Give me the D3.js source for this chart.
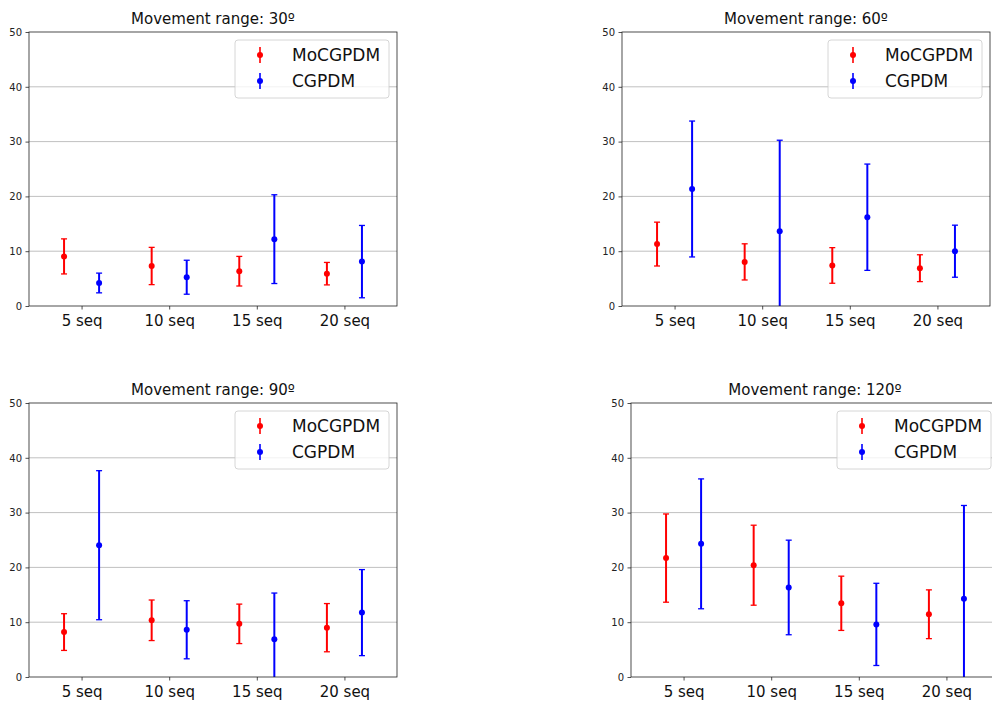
<!DOCTYPE html>
<html>
<head>
<meta charset="utf-8">
<script src="https://cdnjs.cloudflare.com/ajax/libs/d3/7.8.5/d3.min.js"></script>
<style>
  body { margin: 0; background: #fff; }
  text { font-family: "DejaVu Sans", sans-serif; }
</style>
</head>
<body>
<svg id="chart" width="992" height="704"></svg>
<script>
// data
var categories = ["5 seq", "10 seq", "15 seq", "20 seq"];
var ranges = ["30º", "60º", "90º", "120º"];
var seriesNames = ["MoCGPDM", "CGPDM"];
var seriesColors = ["#ff0000", "#0000ff"];

// one row per movement range, one value per category
var mocgpdmMean = [
  [9.05, 7.3, 6.35, 5.9],
  [11.3, 8.05, 7.4, 6.9],
  [8.2, 10.35, 9.7, 9.0],
  [21.7, 20.4, 13.45, 11.45]
];
var mocgpdmErr = [
  [3.2, 3.4, 2.7, 2.05],
  [4.0, 3.3, 3.25, 2.45],
  [3.35, 3.7, 3.6, 4.4],
  [8.05, 7.3, 4.95, 4.45]
];
var cgpdmMean = [
  [4.2, 5.25, 12.2, 8.1],
  [21.35, 13.65, 16.2, 10.0],
  [24.05, 8.62, 6.87, 11.75],
  [24.3, 16.34, 9.6, 14.3]
];
var cgpdmErr = [
  [1.8, 3.1, 8.1, 6.6],
  [12.4, 16.6, 9.7, 4.75],
  [13.6, 5.3, 8.45, 7.85],
  [11.85, 8.63, 7.5, 17.0]
];
var yTicks = [0, 10, 20, 30, 40, 50];

var svg = d3.select("#chart");

//axes boxes in pixels (last one runs off the page like the original)
var boxes = [
  {x: 29, y: 32},
  {x: 622, y: 32},
  {x: 29, y: 403},
  {x: 631, y: 403}
];
var W = 368, H = 274;

boxes.forEach(function(b, p) {
  var g = svg.append("g").attr("transform", "translate(" + b.x + "," + b.y + ")");

  var x = d3.scaleLinear().domain([0.4, 4.6]).range([0, W]);
  var y = d3.scaleLinear().domain([0, 50]).range([H, 0]);

  g.append("clipPath").attr("id", "clip" + p)
    .append("rect").attr("width", W).attr("height", H);

  // grid
  g.selectAll(".grid").data(yTicks.slice(1, -1)).enter()
    .append("line")
    .attr("x1", 0).attr("x2", W)
    .attr("y1", function(d) { return y(d); })
    .attr("y2", function(d) { return y(d); })
    .attr("stroke", "#b0b0b0").attr("stroke-width", 0.8);

  // y axis
  var ya = g.append("g").call(d3.axisLeft(y).tickValues(yTicks).tickSize(3.5).tickPadding(3.5));
  ya.select(".domain").remove();
  ya.selectAll("text").attr("font-size", 10).attr("fill", "#222");
  ya.selectAll("line").attr("stroke", "#222").attr("stroke-width", 0.8);

  // x axis
  var xa = g.append("g").attr("transform", "translate(0," + H + ")")
    .call(d3.axisBottom(x).tickValues([1, 2, 3, 4])
      .tickFormat(function(d) { return categories[d - 1]; })
      .tickSize(3.5).tickPadding(5.5));
  xa.select(".domain").remove();
  xa.selectAll("text").attr("font-size", 15).attr("fill", "#111");
  xa.selectAll("line").attr("stroke", "#222").attr("stroke-width", 0.8);

  // error bars
  var series = [
    {mean: mocgpdmMean[p], err: mocgpdmErr[p], off: -0.2},
    {mean: cgpdmMean[p], err: cgpdmErr[p], off: 0.2}
  ];
  var plot = g.append("g").attr("clip-path", "url(#clip" + p + ")");
  series.forEach(function(s, k) {
    var pts = s.mean.map(function(m, i) { return {x: i + 1 + s.off, m: m, e: s.err[i]}; });
    var eg = plot.selectAll(".eb" + k).data(pts).enter().append("g");
    eg.append("line")
      .attr("x1", function(d) { return x(d.x); }).attr("x2", function(d) { return x(d.x); })
      .attr("y1", function(d) { return y(d.m - d.e); }).attr("y2", function(d) { return y(d.m + d.e); })
      .attr("stroke", seriesColors[k]).attr("stroke-width", 2);
    [-1, 1].forEach(function(sg) {
      eg.append("line")
        .attr("x1", function(d) { return x(d.x) - 3; }).attr("x2", function(d) { return x(d.x) + 3; })
        .attr("y1", function(d) { return y(d.m + sg * d.e); }).attr("y2", function(d) { return y(d.m + sg * d.e); })
        .attr("stroke", seriesColors[k]).attr("stroke-width", 1.3);
    });
    eg.append("circle")
      .attr("cx", function(d) { return x(d.x); }).attr("cy", function(d) { return y(d.m); })
      .attr("r", 3).attr("fill", seriesColors[k]);
  });

  // frame
  g.append("rect").attr("width", W).attr("height", H)
    .attr("fill", "none").attr("stroke", "#222").attr("stroke-width", 0.8);

  // title
  g.append("text").attr("x", W / 2).attr("y", -8)
    .attr("text-anchor", "middle").attr("font-size", 15).attr("fill", "#111")
    .text("Movement range: " + ranges[p]);

  // legend
  var lg = g.append("g").attr("transform", "translate(" + (W - 162) + ",8)");
  lg.append("rect").attr("width", 154).attr("height", 58).attr("rx", 3)
    .attr("fill", "#fff").attr("fill-opacity", 0.8)
    .attr("stroke", "#ccc").attr("stroke-width", 0.8);
  seriesNames.forEach(function(n, k) {
    var yy = 15 + k * 26;
    lg.append("line").attr("x1", 25).attr("x2", 25).attr("y1", yy - 8).attr("y2", yy + 8)
      .attr("stroke", seriesColors[k]).attr("stroke-width", 1.6);
    lg.append("circle").attr("cx", 25).attr("cy", yy).attr("r", 3).attr("fill", seriesColors[k]);
    lg.append("text").attr("x", 57).attr("y", yy + 6).attr("font-size", 17).attr("fill", "#111").text(n);
  });
});
</script>
</body>
</html>
